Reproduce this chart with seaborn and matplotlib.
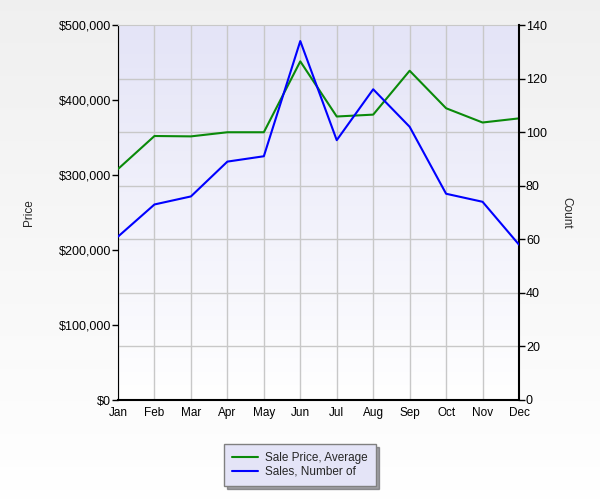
import numpy as np
import pandas as pd
import seaborn as sns
import matplotlib.pyplot as plt
from matplotlib.ticker import FuncFormatter, MultipleLocator
from matplotlib.lines import Line2D

months = ['Jan', 'Feb', 'Mar', 'Apr', 'May', 'Jun', 'Jul', 'Aug', 'Sep', 'Oct', 'Nov', 'Dec']
avg_price = [308000, 352000, 351500, 357000, 357000, 451500, 378000, 380500, 439000, 389000, 370000, 375500]
num_sales = [61, 73, 76, 89, 91, 134, 97, 116, 102, 77, 74, 58]

df = pd.DataFrame({'month': np.arange(len(months)), 'price': avg_price, 'count': num_sales})

sns.set_style('white')
plt.rcParams['font.family'] = ['Liberation Sans', 'DejaVu Sans']

fig = plt.figure(figsize=(6, 5), dpi=100)
# figure background gradient (light gray to white)
bg = fig.add_axes([0, 0, 1, 1], zorder=-10)
grad = np.linspace(0.94, 1.0, 256).reshape(-1, 1)
bg.imshow(np.dstack([grad, grad, grad]), aspect='auto', extent=[0, 1, 0, 1])
bg.axis('off')

ax = fig.add_axes([0.1967, 0.2, 0.6683, 0.75])
ax2 = ax.twinx()
ax2.patch.set_visible(False)

# plot area gradient (lavender to white)
top = np.array([0.894, 0.894, 0.969])
bot = np.array([1.0, 1.0, 1.0])
t = np.linspace(0, 1, 256).reshape(-1, 1, 1)
img = top * (1 - t) + bot * t
ax.imshow(img, aspect='auto', extent=[0, 11, 0, 500000], zorder=0)

# grid: vertical at months, horizontal at right axis ticks (drawn under the lines)
for x in range(len(months)):
    ax.axvline(x, color='#c8c8c8', linewidth=1, zorder=1)
for y in range(20, 140, 20):
    ax.axhline(y * 500000 / 140, color='#c8c8c8', linewidth=1, zorder=1)

sns.lineplot(data=df, x='month', y='price', ax=ax, color='#0a8a0a', linewidth=1.5, zorder=3)
sns.lineplot(data=df, x='month', y='count', ax=ax2, color='#0000ff', linewidth=1.5, zorder=3)

ax.set_xlim(0, 11)
ax.set_ylim(0, 500000)
ax2.set_ylim(0, 140)
ax.set_xticks(np.arange(len(months)))
ax.set_xticklabels(months)
ax.yaxis.set_major_locator(MultipleLocator(100000))
ax.yaxis.set_major_formatter(FuncFormatter(lambda v, p: '${:,.0f}'.format(v)))
ax2.yaxis.set_major_locator(MultipleLocator(20))

ax.set_xlabel('')
ax.set_ylabel('Price', fontsize=8.5)
ax2.set_ylabel('Count', fontsize=8.5, rotation=270)
ax.yaxis.set_label_coords(-0.207, 0.5)
ax2.yaxis.set_label_coords(1.133, 0.5)

for a in (ax, ax2):
    a.tick_params(axis='both', labelsize=9, colors='black', length=4, width=1, direction='out')
    for s in a.spines.values():
        s.set_visible(False)
ax.tick_params(axis='x', labelsize=8.5, pad=1)
ax.tick_params(axis='y', left=True, pad=1)
ax2.tick_params(axis='y', right=True, pad=1)
ax.spines['left'].set_visible(True)
ax.spines['left'].set_color('black')
ax.spines['bottom'].set_visible(True)
ax.spines['bottom'].set_color('black')
ax.spines['bottom'].set_linewidth(1.5)
ax2.spines['right'].set_visible(True)
ax2.spines['right'].set_color('black')
ax2.spines['right'].set_linewidth(1.5)
ax.spines['top'].set_visible(True)
ax.spines['top'].set_color('#c8c8c8')

handles = [Line2D([], [], color='#0a8a0a', linewidth=1.5),
           Line2D([], [], color='#0000ff', linewidth=1.5)]
leg = fig.legend(handles, ['Sale Price, Average', 'Sales, Number of'],
                 loc='center', bbox_to_anchor=(0.5, 0.07), fontsize=8.5,
                 frameon=True, fancybox=False, shadow=True, handlelength=2.2,
                 borderpad=0.7, labelspacing=0.15, handletextpad=0.6)
leg.get_frame().set_facecolor('#e4e4f7')
leg.get_frame().set_edgecolor('#808080')
leg.get_frame().set_alpha(1)

fig.savefig('out.png', dpi=100)
